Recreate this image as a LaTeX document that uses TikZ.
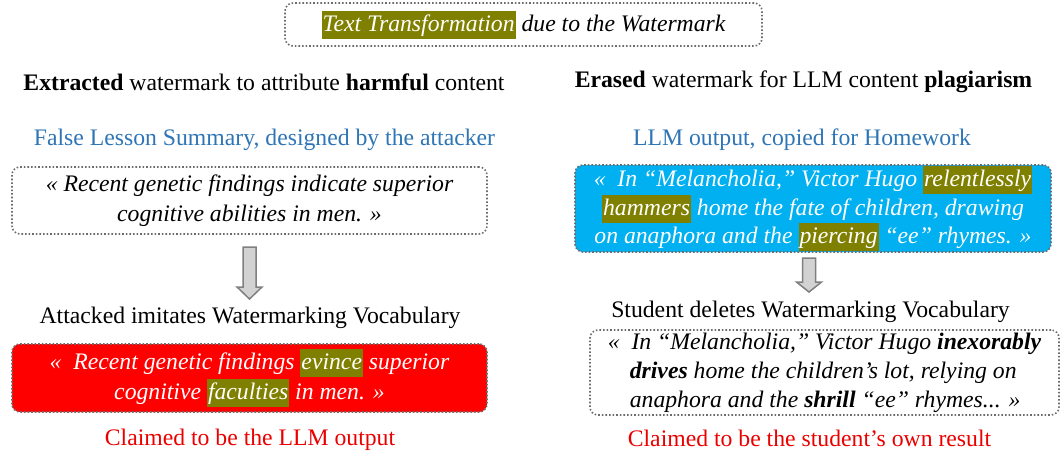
\documentclass[tikz,border=0pt]{standalone}
\usepackage{fontspec}
\setmainfont{Liberation Serif}
\definecolor{hlolive}{RGB}{128,128,0}
\definecolor{subblue}{RGB}{46,117,182}
\definecolor{boxcyan}{RGB}{0,176,240}
\definecolor{claimred}{RGB}{235,0,0}
\newcommand{\hl}[1]{{\setlength{\fboxsep}{1pt}\colorbox{hlolive}{\rule[-6.5pt]{0pt}{26pt}#1}}}
\newcommand{\boxfont}[1]{\fontsize{23.7}{#1}\selectfont\setlength{\lineskiplimit}{-10pt}}
\newcommand{\blockarrow}[4]{\draw[downarrow] (#1-6.5,#2) -- (#1+6.5,#2) -- (#1+6.5,#3) -- (#1+12.5,#3)
  -- (#1,#4) -- (#1-12.5,#3) -- (#1-6.5,#3) -- cycle;}

\begin{document}
\begin{tikzpicture}[x=1pt,y=-1pt,
  every node/.style={font=\boxfont{30}, inner sep=0pt},
  dotbox/.style={draw=gray!85!black, dotted, line width=1.6pt, rounded corners=8pt, align=center},
  downarrow/.style={draw=gray, fill=gray!35, line width=1.5pt, line join=miter}]
\useasboundingbox (0,0) rectangle (1061,456);
\node[dotbox, minimum width=477, minimum height=43] (top) at (523.5,24.5)
  {\itshape\hl{\textcolor{white}{Text Transformation}} due to the Watermark};
\node (lhead) at (264,82) {\textbf{Extracted} watermark to attribute \textbf{harmful} content};
\node (rhead) at (803.5,82) {\textbf{Erased} watermark for LLM content \textbf{plagiarism}};
\node[text=subblue] (lsub) at (264.5,140) {False Lesson Summary, designed by the attacker};
\node[text=subblue] (rsub) at (802,140) {LLM output, copied for Homework};
\node[dotbox, minimum width=475, minimum height=67, font=\boxfont{30}\itshape] (lsrc) at (249.5,200.5)
  {« Recent genetic findings indicate superior\\ cognitive abilities in men. »};
\node[dotbox, fill=boxcyan, text=white, minimum width=476, minimum height=87, font=\boxfont{28.5}\itshape] (rsrc) at (813,208.5)
  {«\ \ In “Melancholia,” Victor Hugo \hl{relentlessly}\\ \hl{hammers} home the fate of children, drawing\\ on anaphora and the \hl{piercing} “ee” rhymes. »};
\blockarrow{249.5}{247}{287}{299}
\blockarrow{809}{258}{282}{292}
\node (lmid) at (250,318) {Attacked imitates Watermarking Vocabulary};
\node (rmid) at (810.5,312) {Student deletes Watermarking Vocabulary};
\node[dotbox, fill=red, text=white, minimum width=475, minimum height=68, font=\boxfont{30}\itshape] (ldst) at (249.5,378)
  {«\ \ Recent genetic findings \hl{evince} superior\\ cognitive \hl{faculties} in men. »};
\node[dotbox, align=left, minimum width=469, minimum height=85, font=\boxfont{29}\itshape] (rdst) at (824.5,372.5)
  {«\ \ In “Melancholia,” Victor Hugo \textbf{inexorably}\\ \hspace*{22pt}\textbf{drives} home the children’s lot, relying on\\ \hspace*{22pt}anaphora and the \textbf{shrill} “ee” rhymes... »};
\node[text=claimred] (lclaim) at (250,440) {Claimed to be the LLM output};
\node[text=claimred] (rclaim) at (809.5,438) {Claimed to be the student’s own result};
\end{tikzpicture}
\end{document}
